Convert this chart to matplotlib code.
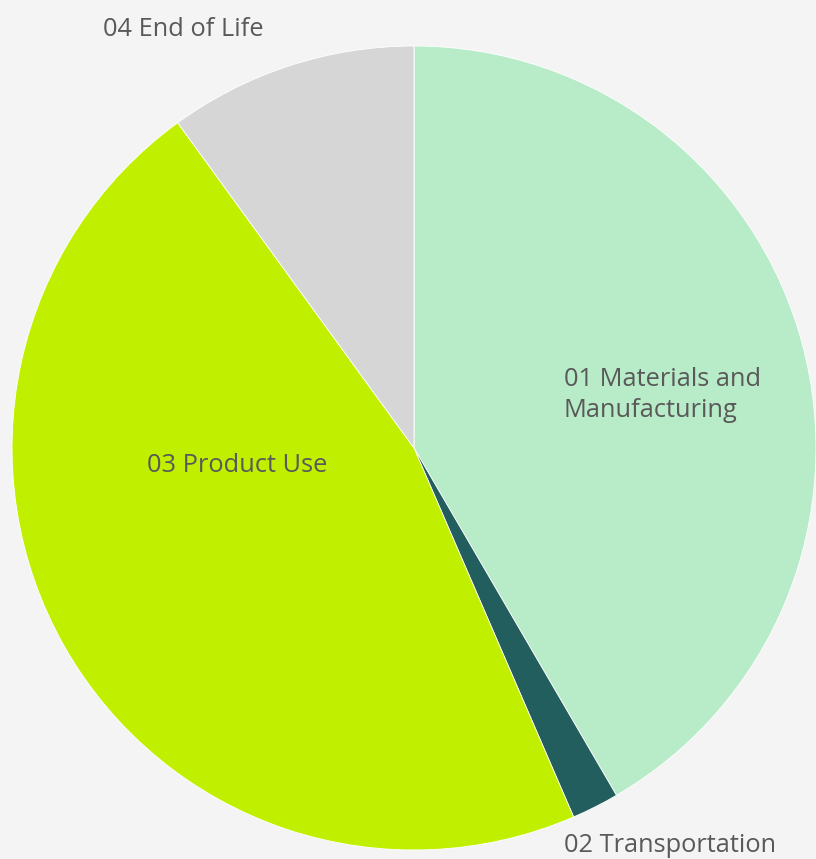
import matplotlib
matplotlib.use("Agg")
import matplotlib.pyplot as plt

categories = ["01 Materials and\nManufacturing", "02 Transportation", "03 Product Use", "04 End of Life"]
values = [41.6, 1.9, 46.5, 10.0]
colors = ["#B8EBC8", "#235E5E", "#C0F000", "#D6D6D6"]

W, H = 816, 859
fig = plt.figure(figsize=(W / 100, H / 100), dpi=100, facecolor="#F4F4F4")
cx, cy, r = 414, 448, 402
ax = fig.add_axes([(cx - r) / W, (H - cy - r) / H, 2 * r / W, 2 * r / H])
ax.set_facecolor("#F4F4F4")
ax.pie(values, colors=colors, startangle=90, counterclock=False, radius=1,
       wedgeprops=dict(edgecolor="white", linewidth=0.6))
ax.set_xlim(-1, 1)
ax.set_ylim(-1, 1)
ax.set_aspect("equal")
ax.axis("off")

def d(px, py):
    return (px - cx) / r, (cy - py) / r

label_pos = [d(564, 395), d(564, 846), d(147, 465), d(103, 30)]
for lab, (x, y) in zip(categories, label_pos):
    ax.text(x, y, lab, ha="left", va="center", fontsize=18.3, color="#595959",
            family="Open Sans", clip_on=False, linespacing=1.32)

fig.savefig("out.png", dpi=100, facecolor=fig.get_facecolor())
